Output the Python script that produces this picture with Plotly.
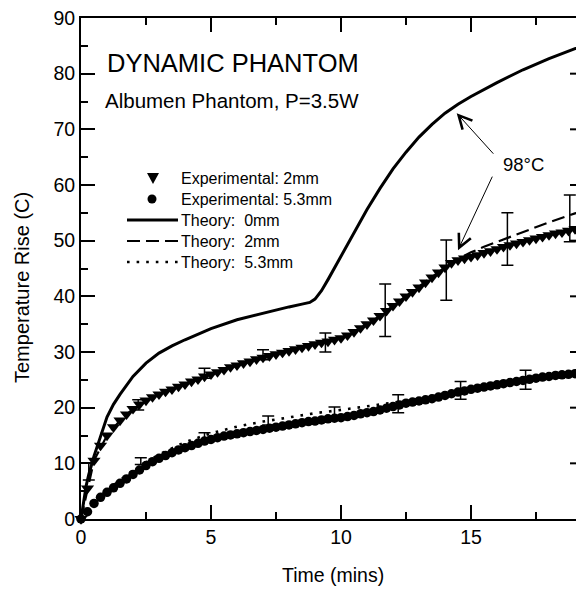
import plotly.graph_objects as go

# ---------------- data ----------------
time_min = [0, 0.25, 0.5, 0.75, 1, 1.25, 1.5, 1.75, 2, 2.25, 2.5, 2.75, 3, 3.25, 3.5, 3.75,
            4, 4.25, 4.5, 4.75, 5, 5.25, 5.5, 5.75, 6, 6.25, 6.5, 6.75, 7, 7.25, 7.5, 7.75,
            8, 8.25, 8.5, 8.75, 9, 9.25, 9.5, 9.75, 10, 10.25, 10.5, 10.75, 11, 11.25, 11.5, 11.75,
            12, 12.25, 12.5, 12.75, 13, 13.25, 13.5, 13.75, 14, 14.25, 14.5, 14.75, 15, 15.25, 15.5, 15.75,
            16, 16.25, 16.5, 16.75, 17, 17.25, 17.5, 17.75, 18, 18.25, 18.5, 18.75, 19]

exp_2mm = [0, 5.5, 10.5, 13.2, 15.0, 16.5, 17.7, 18.8, 19.8, 20.6, 21.3, 21.9, 22.4, 22.9, 23.3, 23.8,
           24.2, 24.7, 25.1, 25.6, 26.0, 26.4, 26.8, 27.3, 27.6, 28.0, 28.3, 28.7, 29.0, 29.3, 29.6, 29.9,
           30.2, 30.5, 30.8, 31.1, 31.4, 31.7, 31.9, 32.2, 32.5, 33.0, 33.6, 34.3, 35.0, 35.7, 36.5, 37.4,
           38.3, 39.1, 40.0, 40.8, 41.6, 42.5, 43.4, 44.3, 45.2, 46.0, 46.5, 46.8, 47.1, 47.4, 47.8, 48.1,
           48.5, 48.9, 49.2, 49.5, 49.8, 50.1, 50.4, 50.7, 51.0, 51.3, 51.5, 51.8, 52.1]

exp_53mm = [0, 1.3, 2.8, 3.9, 4.8, 5.6, 6.4, 7.2, 8.0, 8.8, 9.6, 10.3, 10.9, 11.4, 11.9, 12.4,
            12.8, 13.2, 13.6, 14.0, 14.3, 14.6, 14.9, 15.1, 15.3, 15.5, 15.7, 15.9, 16.1, 16.3, 16.5, 16.7,
            16.9, 17.1, 17.3, 17.5, 17.6, 17.8, 18.0, 18.1, 18.2, 18.4, 18.6, 18.9, 19.1, 19.3, 19.6, 19.9,
            20.2, 20.5, 20.8, 21.0, 21.2, 21.4, 21.6, 21.9, 22.2, 22.5, 22.8, 23.0, 23.3, 23.5, 23.7, 23.9,
            24.1, 24.3, 24.5, 24.7, 24.9, 25.1, 25.3, 25.5, 25.6, 25.8, 25.9, 26.0, 26.1]

theory0_t = [0, 0.1, 0.2, 0.3, 0.4, 0.5, 0.75, 1.0, 1.25, 1.5, 2.0, 2.5, 3.0, 3.5, 4.0, 5.0, 6.0,
             7.0, 8.0, 8.5, 8.8, 9.0, 9.25, 9.5, 9.75, 10.0, 10.5, 11.0, 11.5, 12.0, 12.5, 13.0,
             13.5, 14.0, 14.5, 15.0, 16.0, 17.0, 18.0, 19.0, 19.5]
theory0 = [0, 3.5, 6.0, 8.0, 9.8, 11.3, 14.8, 18.3, 20.6, 22.4, 25.6, 28.0, 29.8, 31.1, 32.2, 34.2, 35.8,
           37.0, 38.1, 38.6, 38.9, 39.5, 41.0, 43.0, 45.1, 47.3, 51.3, 55.6, 59.4, 62.9, 65.9, 68.6,
           70.9, 72.9, 74.5, 75.9, 78.4, 80.7, 82.7, 84.5, 85.2]

theory2_t = [0, 0.25, 0.5, 1, 1.5, 2, 3, 4, 5, 6, 7, 8, 9, 10, 10.5, 11, 11.5, 12, 12.5, 13,
             13.5, 14, 14.5, 15, 15.5, 16, 17, 18, 19, 19.5]
theory2 = [0, 5.5, 10.5, 15.0, 17.7, 19.8, 22.4, 24.2, 26.0, 27.6, 29.0, 30.2, 31.4, 32.5, 33.6, 35.0,
           36.5, 38.3, 40.0, 41.7, 43.4, 45.2, 46.7, 47.9, 48.9, 49.8, 51.6, 53.3, 54.9, 55.7]

theory53_t = [0, 0.5, 1, 2, 3, 4, 5, 6, 7, 8, 9, 10, 11, 12, 13, 14, 15, 16, 17, 18, 19, 19.5]
theory53 = [0, 3.0, 5.2, 8.7, 11.6, 13.8, 15.4, 16.6, 17.5, 18.3, 19.0, 19.6, 20.2, 20.9, 21.6, 22.4,
            23.3, 24.2, 25.0, 25.7, 26.3, 26.6]

err2_t = [0.3, 2.2, 4.75, 7.0, 9.4, 11.7, 14.05, 16.4, 18.8]
err2_y = [8.5, 20.5, 26.2, 29.5, 31.7, 37.5, 44.7, 50.3, 54.0]
err2_e = [1.5, 0.9, 0.9, 0.9, 1.7, 4.7, 5.4, 4.7, 4.2]

err53_t = [2.3, 4.75, 7.2, 9.75, 12.2, 14.6, 17.1]
err53_y = [10.4, 14.6, 17.7, 19.1, 20.7, 23.1, 25.0]
err53_e = [0.6, 0.9, 0.8, 1.0, 1.6, 1.6, 1.7]

x_ticks = [0, 5, 10, 15]
y_ticks = [0, 10, 20, 30, 40, 50, 60, 70, 80, 90]
legend_labels = ["Experimental: 2mm", "Experimental: 5.3mm", "Theory:\u00a0 0mm",
                 "Theory:\u00a0 2mm", "Theory:\u00a0 5.3mm"]

# ---------------- layout helpers (pixel -> paper) ----------------
W_FIG, H_FIG = 576, 591
L, T, R, B = 81, 18, 0, 72
PW, PH = W_FIG - L - R, H_FIG - T - B
X_MAX = PW / 26.0


def px(x):
    return (x - L) / PW


def py(y):
    return (T + PH - y) / PH


FONT = "Liberation Sans, Arial, Helvetica, sans-serif"
BLACK = "black"

fig = go.Figure()

fig.add_trace(go.Scatter(x=theory0_t, y=theory0, mode="lines",
                         line=dict(color=BLACK, width=3), showlegend=False))
fig.add_trace(go.Scatter(x=theory2_t, y=theory2, mode="lines",
                         line=dict(color=BLACK, width=2.2, dash="13px,6px"), showlegend=False))
fig.add_trace(go.Scatter(x=theory53_t, y=theory53, mode="lines",
                         line=dict(color=BLACK, width=2.6, dash="2.6px,7px"), showlegend=False))

fig.add_trace(go.Scatter(x=err2_t, y=err2_y, mode="markers", marker=dict(size=1, color="rgba(0,0,0,0)"),
                         error_y=dict(type="data", array=err2_e, color=BLACK, thickness=1.5, width=6),
                         showlegend=False, cliponaxis=False))
fig.add_trace(go.Scatter(x=err53_t, y=err53_y, mode="markers", marker=dict(size=1, color="rgba(0,0,0,0)"),
                         error_y=dict(type="data", array=err53_e, color=BLACK, thickness=1.5, width=6),
                         showlegend=False, cliponaxis=False))

fig.add_trace(go.Scatter(x=time_min, y=exp_2mm, mode="markers",
                         marker=dict(symbol="triangle-down", size=11.5, color=BLACK, line=dict(width=0)),
                         showlegend=False, cliponaxis=False))
fig.add_trace(go.Scatter(x=time_min, y=exp_53mm, mode="markers",
                         marker=dict(symbol="circle", size=9.5, color=BLACK, line=dict(width=0)),
                         showlegend=False, cliponaxis=False))

shapes = []
# right-hand axis ticks (axis line itself lies just beyond the visible area)
for v in y_ticks[1:-1]:
    shapes.append(dict(type="line", xref="paper", yref="y", x0=px(570), x1=1.0, y0=v, y1=v,
                       line=dict(color=BLACK, width=2)))

# legend samples
leg_y = [178, 199, 220, 241, 262]
tri_c = (153, leg_y[0])
shapes.append(dict(type="path", xref="paper", yref="paper",
                   path="M{:.5f},{:.5f} L{:.5f},{:.5f} L{:.5f},{:.5f} Z".format(
                       px(tri_c[0] - 6), py(tri_c[1] - 5), px(tri_c[0] + 6), py(tri_c[1] - 5),
                       px(tri_c[0]), py(tri_c[1] + 6)),
                   fillcolor=BLACK, line=dict(width=0)))
shapes.append(dict(type="circle", xref="paper", yref="paper",
                   x0=px(147.5), x1=px(156.5), y0=py(leg_y[1] + 4.5), y1=py(leg_y[1] - 4.5),
                   fillcolor=BLACK, line=dict(width=0)))
line_styles = [dict(width=3, dash="solid"), dict(width=2.2, dash="13px,6px"),
               dict(width=2.6, dash="2.6px,7px")]
for yy, st in zip(leg_y[2:], line_styles):
    shapes.append(dict(type="line", xref="paper", yref="paper", x0=px(127), x1=px(178),
                       y0=py(yy), y1=py(yy), line=dict(color=BLACK, **st)))

annotations = []
for yy, lab in zip(leg_y, legend_labels):
    annotations.append(dict(text=lab, xref="paper", yref="paper", x=px(179), y=py(yy),
                            xanchor="left", yanchor="middle", showarrow=False,
                            font=dict(family=FONT, size=16, color=BLACK)))

annotations.append(dict(text="DYNAMIC PHANTOM", xref="paper", yref="paper", x=px(105), y=py(63),
                        xanchor="left", yanchor="middle", showarrow=False,
                        font=dict(family=FONT, size=25.5, color=BLACK)))
annotations.append(dict(text="Albumen Phantom, P=3.5W", xref="paper", yref="paper", x=px(103), y=py(100),
                        xanchor="left", yanchor="middle", showarrow=False,
                        font=dict(family=FONT, size=20.5, color=BLACK)))
annotations.append(dict(text="98°C", xref="paper", yref="paper", x=px(523), y=py(164),
                        xanchor="center", yanchor="middle", showarrow=False,
                        font=dict(family=FONT, size=18.5, color=BLACK)))
# arrows
annotations.append(dict(text="", x=14.45, y=72.9, xref="x", yref="y", ax=38, ay=42,
                        showarrow=True, arrowhead=5, arrowsize=2.6, arrowwidth=1.0, arrowcolor=BLACK,
                        standoff=0))
annotations.append(dict(text="", x=14.5, y=48.3, xref="x", yref="y", ax=35, ay=-75,
                        showarrow=True, arrowhead=5, arrowsize=2.6, arrowwidth=1.0, arrowcolor=BLACK,
                        standoff=0))

# axis titles
annotations.append(dict(text="Temperature Rise (C)", xref="paper", yref="paper", x=px(22), y=py(288),
                        xanchor="center", yanchor="middle", textangle=-90, showarrow=False,
                        font=dict(family=FONT, size=20, color=BLACK)))
annotations.append(dict(text="Time (mins)", xref="paper", yref="paper", x=px(333), y=py(575),
                        xanchor="center", yanchor="middle", showarrow=False,
                        font=dict(family=FONT, size=19.5, color=BLACK)))

axis_common = dict(showgrid=False, zeroline=False, showline=True, linecolor=BLACK, linewidth=2,
                   ticks="inside", ticklen=14, tickwidth=2, tickcolor=BLACK,
                   tickfont=dict(family=FONT, size=19.5, color=BLACK))

fig.update_layout(
    width=W_FIG, height=H_FIG,
    margin=dict(l=L, r=R, t=T, b=B, pad=0),
    paper_bgcolor="white", plot_bgcolor="white",
    showlegend=False,
    xaxis=dict(range=[0, X_MAX], tickvals=x_ticks, mirror="ticks",
               minor=dict(dtick=2.5, tick0=0, ticks="inside", ticklen=7, tickwidth=1.5, tickcolor=BLACK),
               **axis_common),
    yaxis=dict(range=[0, 90], tickvals=y_ticks, mirror=False,
               minor=dict(dtick=5, tick0=0, ticks="inside", ticklen=7, tickwidth=1.5, tickcolor=BLACK),
               **axis_common),
    shapes=shapes,
    annotations=annotations,
)

fig.write_html("out.html")
